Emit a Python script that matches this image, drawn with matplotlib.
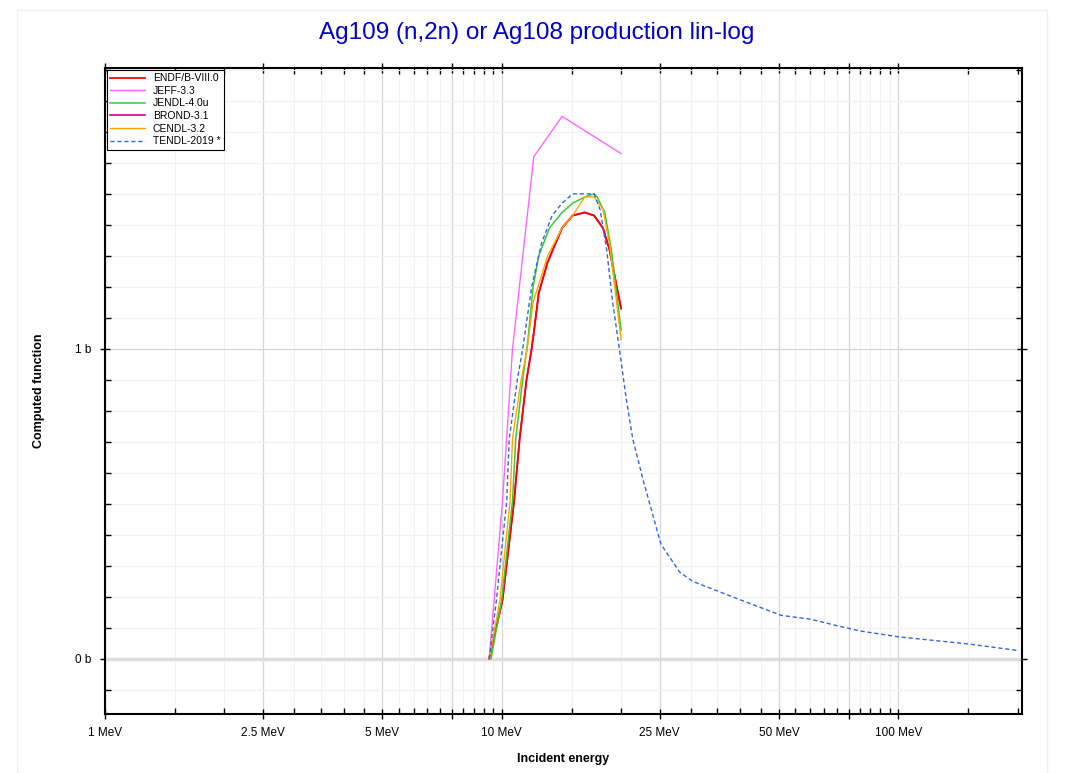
import matplotlib
matplotlib.use("Agg")
import matplotlib.pyplot as plt
import matplotlib.ticker as ticker
from matplotlib.patches import Rectangle
import numpy as np

plt.rcParams["font.family"] = ["Liberation Sans", "DejaVu Sans"]

# energies in MeV, cross sections in barn
endf_e = [9.3, 10.05, 10.75, 11.1, 11.55, 11.9, 12.1, 12.4, 13.06, 14.2, 15.1, 16.2, 17.1, 18.0, 18.7, 20.0]
endf_xs = [0.0, 0.19, 0.51, 0.71, 0.90, 1.0, 1.07, 1.18, 1.28, 1.39, 1.43, 1.44, 1.43, 1.39, 1.32, 1.13]

jeff_e = [9.3, 10.05, 10.65, 12.05, 14.2, 20.0]
jeff_xs = [0.0, 0.51, 1.0, 1.62, 1.75, 1.63]

jendl_e = [9.4, 10.0, 10.65, 10.85, 11.3, 11.65, 12.0, 12.4, 13.2, 14.2, 15.1, 16.2, 17.1, 17.4, 18.2, 18.9, 20.0]
jendl_xs = [0.0, 0.19, 0.51, 0.71, 0.90, 1.03, 1.2, 1.30, 1.39, 1.44, 1.47, 1.49, 1.50, 1.49, 1.44, 1.32, 1.06]

brond_e = list(endf_e)
brond_xs = list(endf_xs)

cendl_e = [9.3, 9.9, 10.5, 10.65, 11.2, 11.6, 12.0, 13.06, 14.2, 15.1, 16.2, 17.1, 18.0, 18.7, 20.0]
cendl_xs = [0.0, 0.19, 0.51, 0.71, 0.90, 1.0, 1.15, 1.30, 1.39, 1.43, 1.49, 1.49, 1.45, 1.34, 1.03]

tendl_e = [9.3, 9.7, 10.3, 10.45, 10.95, 11.3, 11.9, 12.6, 13.4, 14.2, 15.1, 17.1, 17.7, 18.4, 19.0, 19.8,
           20.6, 21.4, 22.7, 25.2, 28.1, 30.3, 40.0, 50.7, 60.0, 70.0, 80.0, 100.0, 150.0, 200.0]
tendl_xs = [0.0, 0.19, 0.51, 0.71, 0.90, 1.0, 1.20, 1.34, 1.43, 1.47, 1.50, 1.50, 1.45, 1.32, 1.16, 1.0,
            0.84, 0.71, 0.58, 0.37, 0.28, 0.25, 0.19, 0.14, 0.128, 0.107, 0.09, 0.071, 0.048, 0.027]

x_major = [1, 2.5, 5, 7.5, 10, 25, 50, 75, 100]
x_labels = ["1 MeV", "2.5 MeV", "5 MeV", "", "10 MeV", "25 MeV", "50 MeV", "", "100 MeV"]
y_major = [0, 1]
y_labels = ["0 b", "1 b"]

fig = plt.figure(figsize=(10.71, 7.73), dpi=100)
fig.patches.append(Rectangle((17 / 1071, 0), 1030 / 1071, 763 / 773, transform=fig.transFigure,
                             fill=False, edgecolor="#f0f0f0", linewidth=1))
ax = fig.add_axes([105 / 1071, 59 / 773, 917 / 1071, 646 / 773])

ax.plot(brond_e, brond_xs, color="#cc0099", lw=1.2, label="BROND-3.1", zorder=2)
ax.plot(endf_e, endf_xs, color="#ff0000", lw=1.3, label="ENDF/B-VIII.0", zorder=3)
ax.plot(jeff_e, jeff_xs, color="#ff66ff", lw=1.0, label="JEFF-3.3", zorder=3)
ax.plot(jendl_e, jendl_xs, color="#33cc33", lw=1.1, label="JENDL-4.0u", zorder=3)
ax.plot(cendl_e, cendl_xs, color="#ffa500", lw=1.0, label="CENDL-3.2", zorder=3)
ax.plot(tendl_e, tendl_xs, color="#3366dd", lw=1.0, ls=(0, (3, 2)), label="TENDL-2019 *", zorder=3)

ax.set_xscale("log")
ax.set_xlim(1, 205)
ax.set_ylim(-0.178, 1.906)

ax.xaxis.set_major_locator(ticker.FixedLocator(x_major))
ax.xaxis.set_major_formatter(ticker.FixedFormatter(x_labels))
x_minor = list(np.arange(1.5, 10, 0.5)) + list(range(15, 100, 5)) + [150, 200]
x_minor = [v for v in x_minor if v not in x_major]
ax.xaxis.set_minor_locator(ticker.FixedLocator(x_minor))
ax.xaxis.set_minor_formatter(ticker.NullFormatter())

ax.yaxis.set_major_locator(ticker.FixedLocator(y_major))
ax.yaxis.set_major_formatter(ticker.FixedFormatter(y_labels))
ax.yaxis.set_minor_locator(ticker.MultipleLocator(0.1))

ax.grid(which="major", color="#d6d6d6", lw=0.9, zorder=0)
ax.grid(which="minor", color="#f2f2f2", lw=0.9, zorder=0)
ax.axhline(0, color="#dddddd", lw=2.5, zorder=1)
ax.set_axisbelow(True)

ax.tick_params(which="major", direction="inout", length=7, width=1, labelsize=8.5,
               top=True, right=True, pad=6)
ax.tick_params(which="minor", direction="in", length=4, width=1, top=True, right=True)
for s in ax.spines.values():
    s.set_linewidth(1.5)

ax.set_xlabel("Incident energy", fontsize=9, fontweight="bold", labelpad=10)
ax.set_ylabel("Computed function", fontsize=9, fontweight="bold", labelpad=22)
fig.suptitle("Ag109 (n,2n) or Ag108 production lin-log", color="#0000cc", fontsize=17.5,
             x=537 / 1071, y=1 - 33 / 773, va="center")

h, l = ax.get_legend_handles_labels()
order = ["ENDF/B-VIII.0", "JEFF-3.3", "JENDL-4.0u", "BROND-3.1", "CENDL-3.2", "TENDL-2019 *"]
hd = dict(zip(l, h))
leg = ax.legend([hd[k] for k in order], order, loc="upper left", bbox_to_anchor=(0, 1),
                borderaxespad=0.15, fontsize=7.5, fancybox=False, framealpha=1, edgecolor="black",
                handlelength=3.3, labelspacing=0.25, borderpad=0.35, handletextpad=0.8)
leg.get_frame().set_linewidth(0.8)

fig.savefig("out.png", dpi=100)
